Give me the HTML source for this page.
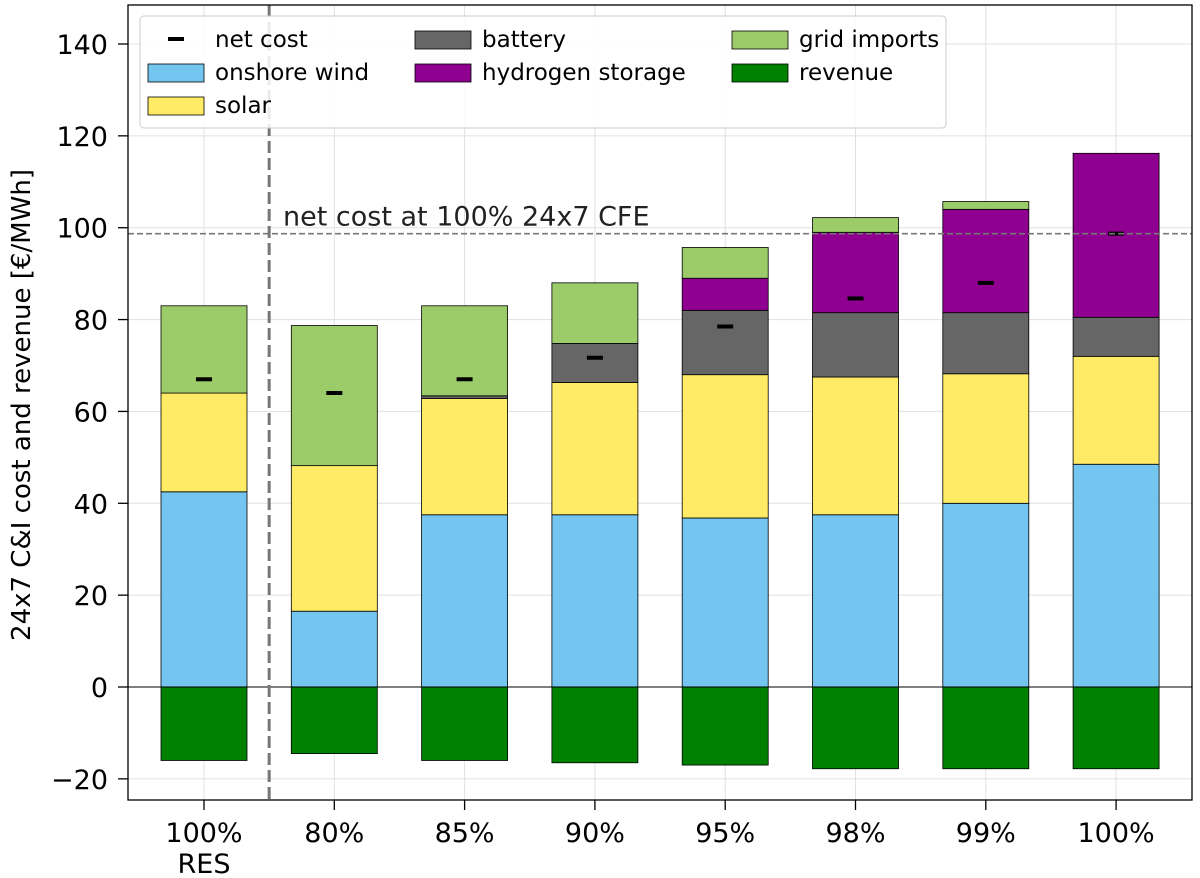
<!DOCTYPE html>
<html><head><meta charset="utf-8"><style>body{margin:0;background:#fff}svg{display:block;font-family:"DejaVu Sans","Liberation Sans",sans-serif}</style></head>
<body>
<svg id="chart" width="1200" height="878"></svg>
<script>
const categories=["100%\nRES","80%","85%","90%","95%","98%","99%","100%"];
const wind=[42.5,16.5,37.5,37.5,36.8,37.5,40,48.5];
const solar=[21.5,31.7,25.3,28.8,31.2,30,28.2,23.5];
const battery=[0,0,0.6,8.5,14,14,13.3,8.5];
const hydrogen=[0,0,0,0,7,17.5,22.5,35.7];
const grid=[19,30.5,19.6,13.2,6.7,3.2,1.7,0];
const revenue=[-16,-14.5,-16,-16.5,-17,-17.8,-17.8,-17.8];
const netCost=[67,64,67,71.7,78.5,84.6,88,98.7];
const yTicks=[-20,0,20,40,60,80,100,120,140];
const refLine=98.7;

const NS="http://www.w3.org/2000/svg",svg=document.getElementById('chart');
const L=128,R=1192,T=5,B=800;
const y=v=>687-(v)*(643/140);
const x=i=>204+i*130.3;
const bw=86;
function el(t,a,p){const e=document.createElementNS(NS,t);for(const k in a)e.setAttribute(k,a[k]);(p||svg).appendChild(e);return e;}
yTicks.forEach(v=>{const g=el('line',{x1:L,x2:R,y1:y(v),y2:y(v),stroke:'#e0e0e0','stroke-width':1});


const t=el('text',{x:L-20,y:y(v)+10,'text-anchor':'end','font-size':27});t.textContent=v<0?'\u2212'+(-v):v;


el('line',{x1:L-10,x2:L,y1:y(v),y2:y(v),stroke:'#000','stroke-width':1.3});});
categories.forEach((c,i)=>{el('line',{x1:x(i),x2:x(i),y1:T,y2:B,stroke:'#e0e0e0'});
el('line',{x1:x(i),x2:x(i),y1:B,y2:B+10,stroke:'#000','stroke-width':1.3});
c.split('\n').forEach((s,j)=>{const t=el('text',{x:x(i),y:842+j*31,'text-anchor':'middle','font-size':27});t.textContent=s;

});});
const series=[[wind,'#74c6f0','onshore wind'],[solar,'#ffeb65','solar'],[battery,'#666666','battery'],[hydrogen,'#900090','hydrogen storage'],[grid,'#9ccc6a','grid imports']];
categories.forEach((c,i)=>{let base=0;
series.forEach(([arr,col,nm])=>{const v=arr[i];if(v>0){const r=el('rect',{x:x(i)-bw/2,y:y(base+v),width:bw,height:y(base)-y(base+v),fill:col,stroke:'#000','stroke-width':0.8});

}base+=v;});
const r=el('rect',{x:x(i)-bw/2,y:y(0),width:bw,height:y(revenue[i])-y(0),fill:'#008000',stroke:'#000','stroke-width':0.8});


const m=el('line',{x1:x(i)-8,x2:x(i)+8,y1:y(netCost[i]),y2:y(netCost[i]),stroke:'#000','stroke-width':4});

});
el('line',{x1:L,x2:R,y1:y(0),y2:y(0),stroke:'#000','stroke-width':1});
el('line',{x1:L,x2:R,y1:y(refLine),y2:y(refLine),stroke:'#777','stroke-width':1.6,'stroke-dasharray':'6,3'});
const rt=el('text',{x:283,y:y(refLine)-8,'font-size':27,fill:'#222'});rt.textContent='net cost at 100% 24x7 CFE';


el('line',{x1:x(0.5),x2:x(0.5),y1:T,y2:B,stroke:'#777','stroke-width':3,'stroke-dasharray':'12,5'});
el('rect',{x:L,y:T,width:R-L,height:B-T,fill:'none',stroke:'#000','stroke-width':1.3});
const yt=el('text',{transform:'translate(30,405) rotate(-90)','text-anchor':'middle','font-size':26});yt.textContent='24x7 C&I cost and revenue [€/MWh]';


const lg=el('g',{});
el('rect',{x:140,y:16,width:806,height:112,rx:4,fill:'#fff','fill-opacity':0.85,stroke:'#ccc'},lg);
const lgItems=[[0,0,'net cost',null],[0,1,'onshore wind','#74c6f0'],[0,2,'solar','#ffeb65'],[1,0,'battery','#666666'],[1,1,'hydrogen storage','#900090'],[2,0,'grid imports','#9ccc6a'],[2,1,'revenue','#008000']];
const cx=[148,415,732];
lgItems.forEach(([c,r,t,col])=>{const g=el('g',{},lg);
const yy=39+r*33;
if(col)el('rect',{x:cx[c],y:yy-8,width:56,height:18,fill:col,stroke:'#000','stroke-width':0.8},g);
else el('line',{x1:cx[c]+20,x2:cx[c]+36,y1:yy,y2:yy,stroke:'#000','stroke-width':4},g);
const tx=el('text',{x:cx[c]+67,y:yy+8,'font-size':23},g);tx.textContent=t;});
</script>
</body></html>
